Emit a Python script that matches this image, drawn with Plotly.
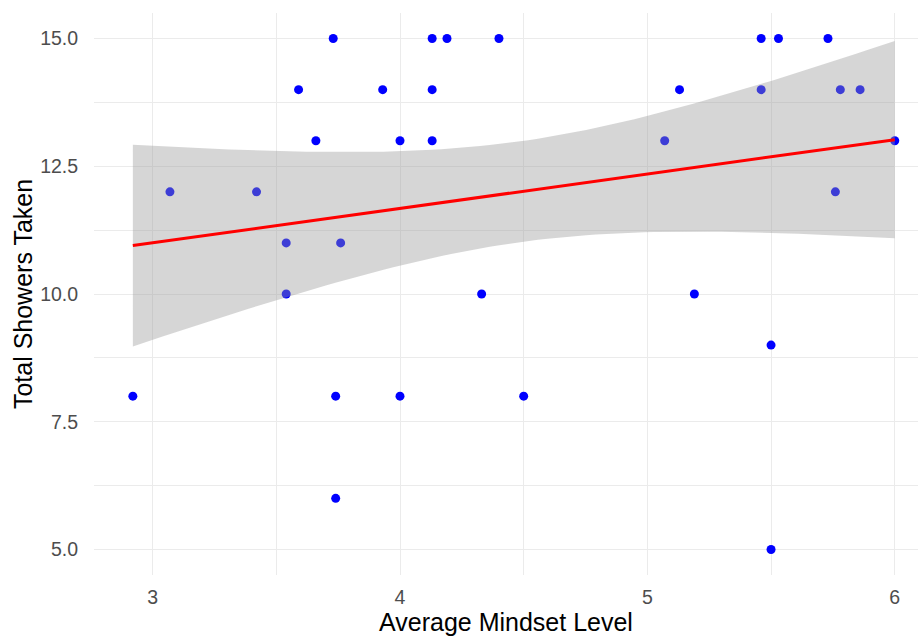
import numpy as np
import plotly.graph_objects as go

# Average mindset level per person and total showers taken
mindset = [2.92, 3.07, 3.42, 3.54, 3.54, 3.59, 3.66, 3.73, 3.74, 3.74,
           3.76, 3.93, 4.00, 4.00, 4.13, 4.13, 4.13, 4.19, 4.33, 4.40,
           4.50, 5.07, 5.13, 5.19, 5.46, 5.46, 5.50, 5.50, 5.53, 5.73,
           5.76, 5.78, 5.86, 6.00]
showers = [8, 12, 12, 11, 10, 14, 13, 15, 8, 6,
           11, 14, 13, 8, 15, 14, 13, 15, 10, 15,
           8, 13, 14, 10, 15, 14, 9, 5, 15, 15,
           12, 14, 14, 13]

x_ticks = [3, 4, 5, 6]
y_ticks = [5.0, 7.5, 10.0, 12.5, 15.0]

# Ordinary least squares fit with a 95% confidence band
x = np.asarray(mindset, dtype=float)
y = np.asarray(showers, dtype=float)
n = len(x)
slope, intercept = np.polyfit(x, y, 1)
resid = y - (intercept + slope * x)
sigma = np.sqrt(np.sum(resid ** 2) / (n - 2))
sxx = np.sum((x - x.mean()) ** 2)
T_CRIT = 2.0369  # t quantile 0.975, df = 32

xs = np.linspace(x.min(), x.max(), 80)
fit = intercept + slope * xs
se = sigma * np.sqrt(1.0 / n + (xs - x.mean()) ** 2 / sxx)
lower = fit - T_CRIT * se
upper = fit + T_CRIT * se

fig = go.Figure()

fig.add_trace(go.Scatter(
    x=mindset, y=showers, mode="markers",
    marker=dict(color="#0000ff", size=9, line=dict(width=0)),
    showlegend=False, hoverinfo="x+y",
))

fig.add_trace(go.Scatter(
    x=np.concatenate([xs, xs[::-1]]),
    y=np.concatenate([upper, lower[::-1]]),
    mode="lines", fill="toself",
    fillcolor="rgba(153,153,153,0.4)",
    line=dict(width=0), showlegend=False, hoverinfo="skip",
))

fig.add_trace(go.Scatter(
    x=xs, y=fit, mode="lines",
    line=dict(color="#ff0000", width=3),
    showlegend=False,
))

grid = "#ebebeb"
fig.update_layout(
    width=918, height=637,
    margin=dict(l=94, r=0, t=13, b=62),
    paper_bgcolor="white", plot_bgcolor="white",
    font=dict(family="Liberation Sans, Arial, sans-serif"),
    xaxis=dict(
        range=[2.763, 6.094],
        tickvals=x_ticks, ticktext=[str(v) for v in x_ticks],
        showgrid=True, gridcolor=grid, gridwidth=1.2,
        minor=dict(tickvals=[3.5, 4.5, 5.5], showgrid=True,
                   gridcolor=grid, gridwidth=1),
        zeroline=False, showline=False,
        ticks="outside", ticklen=5, tickcolor="rgba(0,0,0,0)",
        tickfont=dict(size=19.5, color="#4d4d4d"),
        title=dict(text="Average Mindset Level",
                   font=dict(size=25, color="#000000"), standoff=0),
        automargin=False,
    ),
    yaxis=dict(
        range=[4.5, 15.5],
        tickvals=y_ticks, ticktext=[f"{v:.1f}" for v in y_ticks],
        showgrid=True, gridcolor=grid, gridwidth=1.2,
        minor=dict(tickvals=[6.25, 8.75, 11.25, 13.75], showgrid=True,
                   gridcolor=grid, gridwidth=1),
        zeroline=False, showline=False,
        ticks="outside", ticklen=11, tickcolor="rgba(0,0,0,0)",
        tickfont=dict(size=19.5, color="#4d4d4d"),
        title=dict(text="Total Showers Taken",
                   font=dict(size=25, color="#000000"), standoff=0),
        automargin=False,
    ),
)

fig.write_html("out.html")
